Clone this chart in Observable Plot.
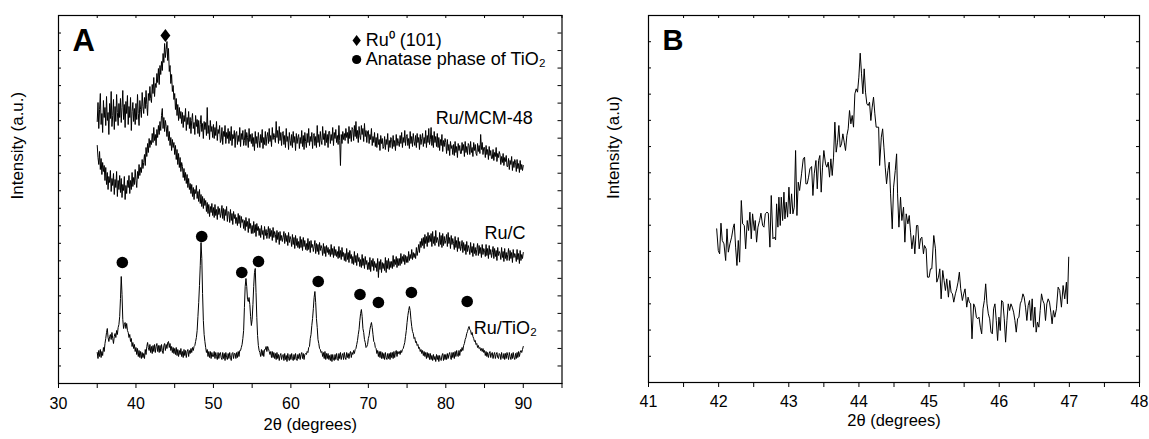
<!DOCTYPE html>
<html><head><meta charset="utf-8">
<script src="https://cdn.jsdelivr.net/npm/d3@7"></script>
<script src="https://cdn.jsdelivr.net/npm/@observablehq/plot@0.6"></script>
<style>
html,body{margin:0;padding:0;background:#fff;}
#wrap{display:flex;width:1149px;height:439px;overflow:hidden;background:#fff;}
#wrap svg{display:block;}
</style></head><body><div id="wrap"></div>
<script>
// ---------- Panel A data (2θ grid: start + i*step) ----------
const aThetaStart = 35;
const aStep = 0.1;
const aSeriesNames = ["Ru/MCM-48", "Ru/C", "Ru/TiO₂"];

const aMcm48 = [
262,281,255,274,290,259,270,251,283,266, 276,258,287,263,271,249,280,265,292,257,
268,284,254,277,262,289,271,258,280,266, 285,261,276,293,264,279,256,282,270,288,
259,277,266,286,253,272,281,262,275,259, 280,264,289,270,258,283,274,266,291,277,
270,286,275,293,279,268,290,283,297,285, 281,299,290,306,287,300,296,310,301,315,
299,318,309,322,313,330,321,340,326,334, 342,323,335,312,318,300,309,292,298,284,
290,274,285,268,279,263,276,265,272,260, 271,256,268,262,275,253,266,259,272,255,
266,250,263,270,255,261,249,268,257,264, 250,263,247,259,268,252,260,245,262,254,
261,248,276,250,258,244,263,252,257,246, 259,245,256,248,262,243,254,250,258,241,
244,256,239,252,247,258,240,251,245,255, 240,252,243,257,238,249,245,253,236,250,
252,239,248,242,256,237,250,244,253,238, 243,254,238,251,246,236,255,242,249,240,
250,237,246,233,252,240,247,236,251,243, 236,249,241,254,235,246,239,252,238,247,
251,240,255,242,248,237,256,244,250,246, 241,262,246,253,240,257,243,251,238,250,
252,239,248,236,255,242,247,234,251,243, 238,249,236,252,241,247,233,250,240,246,
249,235,246,240,253,237,248,234,251,242, 236,250,241,255,238,247,242,251,235,248,
250,238,247,236,258,241,249,237,252,243, 239,257,244,250,238,253,241,249,236,252,
252,240,249,243,256,238,251,245,254,241, 248,239,258,243,218,249,240,252,244,250,
243,255,246,251,240,257,245,253,242,256, 254,243,258,247,262,245,253,241,257,248,
244,258,249,255,242,260,247,253,241,252, 253,240,249,244,255,238,247,241,251,237,
246,236,250,239,244,233,248,240,245,235, 237,247,234,244,239,250,232,243,236,246,
244,235,248,237,243,233,249,238,245,240, 237,248,240,251,236,246,241,253,238,247,
249,238,245,235,252,240,247,237,250,242, 238,248,236,250,241,246,234,249,239,245,
250,237,246,240,253,236,248,241,255,239, 244,256,238,248,236,252,241,247,237,250,
236,246,233,244,238,249,232,243,237,245, 241,230,244,233,239,228,242,235,238,229,
239,228,242,231,237,226,240,233,238,230, 230,241,233,239,227,242,231,237,229,240,
238,229,242,231,236,227,241,233,239,230, 228,240,232,238,230,249,234,241,229,236,
236,226,238,229,234,224,237,228,233,225, 225,234,223,231,227,236,222,230,226,232,
229,219,227,221,230,218,226,222,228,217, 217,225,214,223,219,227,213,222,216,224,
221,212,224,215,220,211,223,214,219,213, 218];

const aRuC = [
238,226,219,232,214,225,209,221,212,218, 203,216,199,211,194,207,201,213,192,205,
198,210,189,204,196,212,187,203,194,208, 191,205,186,199,193,207,184,198,190,203,
196,208,190,203,194,211,197,206,199,214, 203,196,212,205,219,208,216,211,224,215,
221,229,218,236,227,240,231,245,236,243, 239,250,241,256,243,249,238,254,246,258,
249,262,253,268,275,255,266,252,263,257, 247,258,243,252,238,246,233,244,236,241,
229,238,224,234,219,230,216,226,212,221, 217,206,215,203,211,200,209,196,205,194,
200,190,199,187,196,184,194,190,198,185, 192,182,194,180,189,177,187,175,185,178,
183,172,181,170,179,167,177,171,180,168, 176,166,179,168,174,164,177,169,175,166,
170,178,165,175,163,174,168,177,162,172, 171,161,174,163,170,159,172,165,169,160,
166,158,170,160,168,156,167,161,164,155, 163,153,166,157,162,151,165,155,160,150,
158,150,162,151,159,147,160,153,157,148, 155,146,158,149,153,144,157,148,154,145,
151,157,145,155,147,153,143,156,146,152, 149,141,153,144,151,139,152,143,148,142,
146,152,140,150,142,148,138,151,141,147, 144,137,149,139,146,135,148,138,145,136,
142,135,147,136,144,133,146,137,143,134, 140,133,145,134,142,131,143,136,139,132,
137,143,130,140,132,139,129,141,133,138, 135,128,140,130,137,127,138,131,136,129,
134,127,139,129,135,126,137,128,134,127, 132,125,137,126,133,124,136,127,131,123,
130,122,135,124,131,121,133,125,129,120, 127,119,132,121,128,118,130,122,126,117,
124,116,129,118,125,115,127,119,123,114, 121,114,126,112,123,117,125,113,122,116,
120,112,125,106,122,114,124,111,121,115, 120,113,126,111,123,115,125,114,122,116,
122,115,128,117,124,119,127,116,125,118, 125,118,130,120,127,122,129,119,128,121,
127,121,132,123,129,125,134,124,131,126, 130,125,136,128,133,139,131,142,136,145,
138,146,135,149,140,147,137,151,141,148, 142,150,137,152,140,147,138,153,141,146,
143,137,151,139,148,136,150,138,147,140, 143,149,137,151,140,146,135,148,139,145,
140,134,147,136,143,132,146,135,142,133, 137,143,131,141,133,139,129,142,132,138,
135,129,141,131,137,127,140,130,136,128, 134,140,128,138,130,136,126,139,129,135,
133,127,139,128,135,125,138,129,134,126, 131,137,125,135,127,133,123,136,128,132,
130,124,136,126,132,122,135,125,131,123, 129,135,123,133,125,131,121,134,126,130,
128,122,134,124,130,120,133,123,129,125, 131];

const aTiO2 = [
31,25,33,27,34,26,32,28,36,32, 40,45,51,55,46,42,47,49,44,51,
45,40,47,50,46,53,49,56,59,67, 85,107,89,64,55,59,61,55,60,53,
51,46,49,42,45,37,41,35,39,32, 36,29,35,27,33,26,32,25,31,26,
30,25,34,29,37,41,36,33,39,31, 37,30,38,32,39,31,37,40,32,38,
31,38,32,39,33,30,38,40,33,39, 35,41,42,36,40,33,37,31,36,30,
35,29,36,28,34,27,33,29,35,27, 32,26,34,28,33,26,32,34,27,33,
30,35,31,36,33,37,38,42,46,53, 67,81,98,118,141,125,90,63,49,42,
36,31,34,27,32,26,32,25,31,27, 27,32,25,31,27,24,31,25,30,31,
26,24,31,25,30,23,31,26,24,30, 25,31,26,23,30,31,25,30,30,25,
31,26,32,27,33,33,36,39,45,53, 76,97,105,97,84,82,86,79,67,58,
64,79,97,111,115,91,66,48,38,33, 31,27,34,28,33,27,34,34,37,32,
37,35,32,29,32,26,32,26,31,25, 30,24,31,25,29,23,28,30,24,28,
29,23,30,24,28,22,30,25,23,29, 24,30,25,23,29,24,30,25,23,29,
25,30,24,29,31,25,30,24,29,30, 29,32,31,36,37,45,49,58,65,75,
86,92,81,65,56,44,40,35,34,31, 32,27,31,25,32,24,30,25,30,24,
28,23,29,22,29,24,23,29,24,30, 25,23,30,25,31,24,28,30,24,31,
26,24,31,26,30,25,30,32,26,31, 29,33,30,34,35,39,43,49,54,63,
70,74,67,55,51,44,41,36,37,39, 45,48,54,58,61,56,49,42,41,36,
35,30,33,27,32,26,32,25,31,25, 30,24,31,26,24,30,25,30,24,31,
26,31,25,32,26,31,33,27,32,30, 32,29,33,31,34,35,38,41,47,53,
61,68,73,77,73,64,57,52,50,45, 46,41,42,38,39,35,36,32,34,30,
33,28,32,27,31,25,31,26,30,24, 30,24,28,23,29,24,27,22,29,24,
28,22,28,24,23,28,30,23,29,24, 29,24,30,25,29,31,26,24,31,26,
31,25,32,27,33,28,27,33,28,34, 32,36,33,38,40,44,46,50,52,55,
57,54,53,49,51,47,45,42,43,39, 40,36,38,35,36,33,35,32,35,31,
33,28,32,27,31,26,30,32,26,30, 31,25,29,31,25,29,31,26,25,30,
29,24,31,26,25,30,24,30,25,31, 28,24,31,27,24,30,25,31,26,24,
30,25,31,26,32,27,31,33,31,34, 37];

// peak markers (anatase) and Ru0 marker
const anataseTheta = [38.24, 48.49, 53.66, 55.82, 63.53, 68.92, 71.3, 75.56, 82.76];
const anataseLevel = [121, 147, 111, 122, 102, 89, 81, 91, 82];
const ru0Theta = [43.8];
const ru0Level = [348];

// legend and series labels
const legendText = ["Ru⁰ (101)", "Anatase phase of TiO₂"];
const legendTheta = [68.49, 68.49];
const legendLevel = [343, 324];
const seriesLabelTheta = [78.7, 85.0, 83.6];
const seriesLabelLevel = [265, 150.5, 55.5];

// axes
const aXDomain = [30, 95];
const aYDomain = [0, 368];
const aXTicks = d3.range(30, 96, 5);
const aXLabels = [30, 40, 50, 60, 70, 80, 90];
const aYTickCount = 21;

// ---------- Panel B data ----------
const bTheta = [
41.972,41.995,42.014,42.033,42.052,42.076,42.100,42.119,42.138,42.161,42.185,42.209,42.223,42.242,42.261,42.280,42.299,42.323,42.342,42.366,
42.385,42.408,42.427,42.446,42.465,42.484,42.508,42.522,42.541,42.560,42.584,42.603,42.627,42.646,42.665,42.689,42.708,42.731,42.750,42.774,
42.793,42.812,42.826,42.845,42.859,42.878,42.893,42.912,42.931,42.945,42.964,42.983,43.002,43.021,43.040,43.059,43.078,43.097,43.116,43.135,
43.154,43.182,43.206,43.225,43.244,43.263,43.282,43.301,43.325,43.344,43.363,43.387,43.406,43.425,43.443,43.462,43.481,43.500,43.524,43.543,
43.562,43.581,43.600,43.619,43.638,43.657,43.676,43.695,43.714,43.733,43.752,43.771,43.790,43.809,43.828,43.847,43.866,43.885,43.904,43.923,
43.942,43.961,43.980,43.999,44.018,44.037,44.056,44.075,44.094,44.113,44.132,44.151,44.170,44.189,44.208,44.227,44.246,44.281,44.295,44.319,
44.338,44.356,44.375,44.394,44.413,44.432,44.451,44.475,44.494,44.518,44.537,44.551,44.570,44.593,44.612,44.636,44.655,44.674,44.698,44.717,
44.736,44.755,44.778,44.797,44.821,44.840,44.859,44.878,44.897,44.920,44.935,44.958,44.977,45.001,45.020,45.039,45.067,45.091,45.110,45.134,
45.153,45.172,45.195,45.214,45.233,45.252,45.276,45.295,45.314,45.333,45.352,45.375,45.394,45.413,45.432,45.451,45.475,45.494,45.513,45.537,
45.556,45.574,45.593,45.612,45.636,45.655,45.674,45.693,45.712,45.731,45.750,45.769,45.788,45.807,45.826,45.845,45.864,45.883,45.902,45.920,
45.939,45.958,45.977,45.996,46.015,46.034,46.053,46.072,46.091,46.110,46.129,46.148,46.167,46.186,46.205,46.224,46.243,46.262,46.281,46.300,
46.319,46.338,46.356,46.375,46.394,46.413,46.432,46.451,46.470,46.489,46.508,46.527,46.546,46.565,46.584,46.603,46.622,46.641,46.660,46.679,
46.698,46.717,46.736,46.754,46.773,46.792,46.816,46.840,46.863,46.887,46.911,46.934,46.958,46.972,46.991];
const bIntensity = [
461,396,386,478,426,416,366,461,391,416,436,466,476,406,351,426,361,546,476,471,
401,486,456,511,431,506,456,486,421,466,486,508,471,466,506,511,508,406,561,431,
436,428,536,466,556,471,556,486,571,491,541,496,586,506,566,506,526,696,501,601,
576,626,671,676,596,596,616,641,648,561,626,666,581,666,681,571,646,696,656,646,
661,616,671,621,676,781,691,721,771,706,716,746,721,696,741,761,816,776,801,766,
866,881,871,916,988,926,866,941,871,836,831,841,786,826,856,806,766,766,651,736,
761,706,646,596,636,661,566,461,586,636,686,566,466,556,486,526,421,506,476,501,
451,401,441,386,471,471,401,431,436,386,411,401,316,316,341,341,441,401,301,316,
341,251,336,306,276,311,256,306,271,266,241,266,281,301,331,281,246,266,281,226,
256,241,236,131,236,226,196,191,196,166,146,221,246,296,236,206,191,151,146,221,
236,186,126,196,156,246,241,191,121,186,236,216,236,226,211,186,151,191,196,236,
246,266,256,226,186,231,246,186,251,166,226,151,181,166,216,266,246,236,186,236,
251,241,211,176,216,196,221,286,276,226,291,251,301,236,376];
const bXDomain = [41, 48];
const bYDomain = [0, 1101];
const bXTicks = d3.range(41, 48.01, 0.5);
const bXLabels = [41, 42, 43, 44, 45, 46, 47, 48];
const bYTickCount = 14;

// ---------- rendering ----------
const FONT = "'Liberation Sans', Arial, Helvetica, sans-serif";
const diamondSym = {
  draw(ctx, size) {
    const r = Math.sqrt(size / Math.PI), h = r * 1.1, w = r * 0.83;
    ctx.moveTo(0, -h); ctx.lineTo(w, 0); ctx.lineTo(0, h); ctx.lineTo(-w, 0); ctx.closePath();
  }
};

const rowsA = [];
[aMcm48, aRuC, aTiO2].forEach((arr, k) =>
  arr.forEach((v, i) => rowsA.push({s: aSeriesNames[k], t: aThetaStart + i * aStep, v})));
const anatase = anataseTheta.map((t, i) => ({t, v: anataseLevel[i]}));
const ru0 = ru0Theta.map((t, i) => ({t, v: ru0Level[i]}));
const legendRows = legendText.map((s, i) => ({s, t: legendTheta[i], v: legendLevel[i]}));
const seriesLabels = aSeriesNames.map((s, i) => ({s, t: seriesLabelTheta[i], v: seriesLabelLevel[i]}));

const A = {w: 575, h: 439, ml: 58, mr: 13.5, mt: 15, mb: 56};
const fwA = A.w - A.ml - A.mr, fhA = A.h - A.mt - A.mb;
const aYTicks = d3.range(1, aYTickCount).map(i => i * (aYDomain[1] - aYDomain[0]) / aYTickCount);

const plotA = Plot.plot({
  width: A.w, height: A.h,
  marginLeft: A.ml, marginRight: A.mr, marginTop: A.mt, marginBottom: A.mb,
  x: {domain: aXDomain, axis: null, label: null},
  y: {domain: aYDomain, axis: null, label: null},
  style: {fontFamily: FONT, background: "white", color: "black", overflow: "visible"},
  marks: [
    Plot.line(rowsA, {x: "t", y: "v", z: "s", stroke: "black", strokeWidth: 1}),
    Plot.frame({stroke: "black", strokeWidth: 1.2}),
    Plot.tickX(aXTicks, {x: d => d, insetTop: fhA, insetBottom: -5, stroke: "black"}),
    Plot.tickX(aXTicks, {x: d => d, insetBottom: fhA - 3, stroke: "black"}),
    Plot.tickY(aYTicks, {y: d => d, insetRight: fwA - 3, stroke: "black"}),
    Plot.tickY(aYTicks, {y: d => d, insetLeft: fwA - 4, stroke: "black"}),
    Plot.text(aXLabels, {x: d => d, text: d => String(d), frameAnchor: "bottom", dy: 14, lineAnchor: "top", fontSize: 16, fill: "black"}),
    Plot.text(["Intensity (a.u.)"], {text: d => d, frameAnchor: "left", rotate: -90, dx: -41, fontSize: 17, fill: "black"}),
    Plot.text(["2θ (degrees)"], {text: d => d, frameAnchor: "bottom", dy: 46, fontSize: 16.5, fill: "black"}),
    Plot.text(["A"], {text: d => d, frameAnchor: "top-left", dx: 14, dy: 13, textAnchor: "start", lineAnchor: "top", fontSize: 31, fontWeight: "bold", fill: "black"}),
    Plot.dot(anatase, {x: "t", y: "v", r: 5.8, fill: "black", stroke: "none"}),
    Plot.dot(ru0, {x: "t", y: "v", r: 6, symbol: diamondSym, fill: "black", stroke: "none"}),
    Plot.dot(legendRows.slice(0, 1), {x: "t", y: "v", r: 5, symbol: diamondSym, fill: "black", stroke: "none"}),
    Plot.dot(legendRows.slice(1), {x: "t", y: "v", r: 4.6, fill: "black", stroke: "none"}),
    Plot.text(legendRows, {x: "t", y: "v", text: "s", dx: 9, textAnchor: "start", fontSize: 18, fill: "black"}),
    Plot.text(seriesLabels, {x: "t", y: "v", text: "s", textAnchor: "start", fontSize: 18, fill: "black"})
  ]
});

const rowsB = bTheta.map((t, i) => ({t, v: bIntensity[i]}));
const B = {w: 574, h: 439, ml: 73, mr: 10, mt: 15, mb: 57};
const fwB = B.w - B.ml - B.mr, fhB = B.h - B.mt - B.mb;
const bYTicks = d3.range(1, bYTickCount).map(i => i * (bYDomain[1] - bYDomain[0]) / bYTickCount);

const plotB = Plot.plot({
  width: B.w, height: B.h,
  marginLeft: B.ml, marginRight: B.mr, marginTop: B.mt, marginBottom: B.mb,
  x: {domain: bXDomain, axis: null, label: null},
  y: {domain: bYDomain, axis: null, label: null},
  style: {fontFamily: FONT, background: "white", color: "black", overflow: "visible"},
  marks: [
    Plot.line(rowsB, {x: "t", y: "v", stroke: "black", strokeWidth: 1}),
    Plot.frame({stroke: "black", strokeWidth: 1.2}),
    Plot.tickX(bXTicks, {x: d => d, insetTop: fhB, insetBottom: -5, stroke: "black"}),
    Plot.tickX(bXTicks, {x: d => d, insetBottom: fhB - 3, stroke: "black"}),
    Plot.tickY(bYTicks, {y: d => d, insetRight: fwB - 3, stroke: "black"}),
    Plot.tickY(bYTicks, {y: d => d, insetLeft: fwB - 3, stroke: "black"}),
    Plot.text(bXLabels, {x: d => d, text: d => String(d), frameAnchor: "bottom", dy: 13, lineAnchor: "top", fontSize: 16, fill: "black"}),
    Plot.text(["Intensity (a.u)"], {text: d => d, frameAnchor: "left", rotate: -90, dx: -35.3, fontSize: 17, fill: "black"}),
    Plot.text(["2θ (degrees)"], {text: d => d, frameAnchor: "bottom", dy: 43.5, fontSize: 16.5, fill: "black"}),
    Plot.text(["B"], {text: d => d, frameAnchor: "top-left", dx: 14, dy: 14, textAnchor: "start", lineAnchor: "top", fontSize: 29, fontWeight: "bold", fill: "black"})
  ]
});

const wrap = document.getElementById("wrap");
wrap.appendChild(plotA);
wrap.appendChild(plotB);
</script>
</body></html>
